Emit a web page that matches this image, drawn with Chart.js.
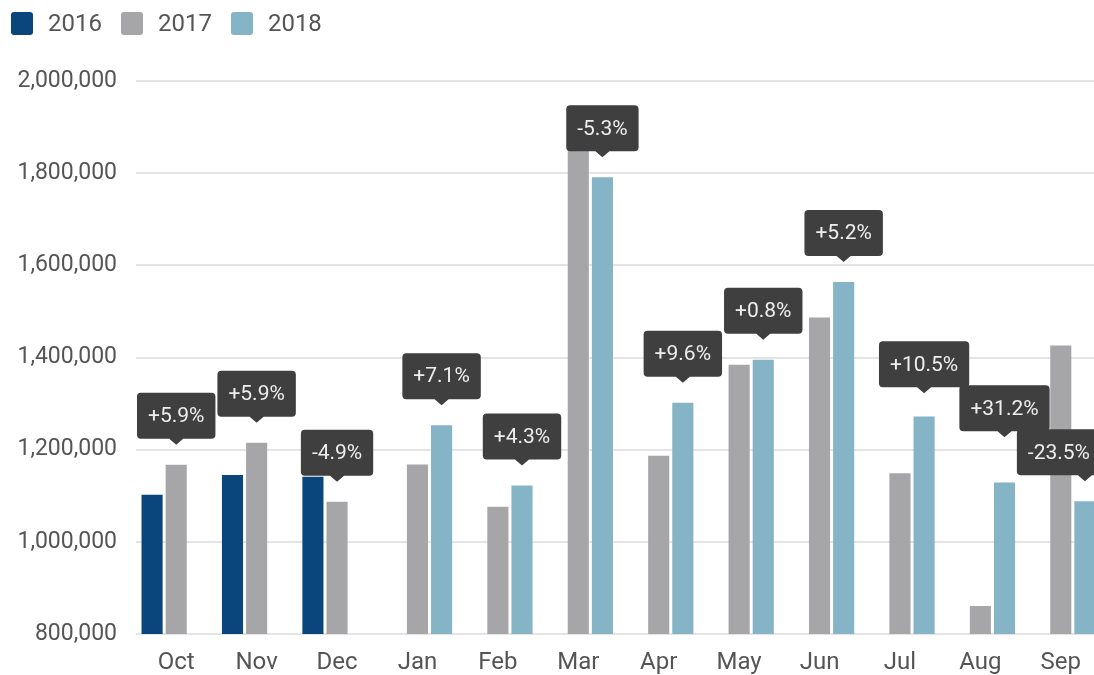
<!DOCTYPE html>
<html>
<head>
<meta charset="utf-8">
<script src="https://cdn.jsdelivr.net/npm/chart.js@4.4.1/dist/chart.umd.min.js"></script>
<style>
  html, body { margin: 0; padding: 0; background: #fff; overflow: hidden; width: 1094px; height: 675px; }
  #wrap { position: relative; width: 1101px; height: 675px; }
  #legend { position: absolute; left: 11px; top: 9px; display: flex; font-family: Roboto, sans-serif; font-size: 24px; color: #555; z-index: 2; }
  .item { display: flex; align-items: center; margin-right: 19px; }
  .sw { width: 22px; height: 23px; border-radius: 3px; margin-right: 15px; }
</style>
</head>
<body>
<div id="wrap">
  <div id="legend"></div>
  <canvas id="c"></canvas>
</div>
<script>
const categories = ['Oct','Nov','Dec','Jan','Feb','Mar','Apr','May','Jun','Jul','Aug','Sep'];
const seriesNames = ['2016','2017','2018'];
const values2016 = [1102000, 1145000, 1141000, null, null, null, null, null, null, null, null, null];
const values2017 = [1167000, 1215000, 1087000, 1168000, 1076000, 1891000, 1187000, 1384000, 1487000, 1149000, 861000, 1426000];
const values2018 = [null, null, null, 1253000, 1122000, 1791000, 1302000, 1395000, 1564000, 1272000, 1129000, 1088000];
const changeLabels = ['+5.9%','+5.9%','-4.9%','+7.1%','+4.3%','-5.3%','+9.6%','+0.8%','+5.2%','+10.5%','+31.2%','-23.5%'];
const yTicks = [800000, 1000000, 1200000, 1400000, 1600000, 1800000, 2000000];
const colors = ['#0a457c', '#a6a6a9', '#85b4c6'];

// HTML legend
const legend = document.getElementById('legend');
seriesNames.forEach((n, i) => {
  const it = document.createElement('div'); it.className = 'item';
  const sw = document.createElement('div'); sw.className = 'sw'; sw.style.background = colors[i];
  const tx = document.createElement('span'); tx.textContent = n;
  it.appendChild(sw); it.appendChild(tx); legend.appendChild(it);
});

const calloutPlugin = {
  id: 'callouts',
  afterDatasetsDraw(chart) {
    const ctx = chart.ctx;
    ctx.save();
    ctx.font = '21px Roboto, sans-serif';
    ctx.textAlign = 'center';
    ctx.textBaseline = 'middle';
    const caretH = 6, caretW = 7, h = 46, r = 4;
    // compute boxes
    const boxes = categories.map((c, i) => {
      const ds = values2018[i] != null ? 2 : 1;
      const bar = chart.getDatasetMeta(ds).data[i];
      const x = bar.x;
      const tipY = bar.y - 20;
      const bottom = tipY - caretH;
      const w = ctx.measureText(changeLabels[i]).width + 22;
      let left = x - w / 2;
      if (left + w > chart.width) left = chart.width - w;
      if (left < 0) left = 0;
      return { x, tipY, bottom, top: bottom - h, left, right: left + w, w };
    });
    // avoid collisions: raise a box that overlaps its right neighbour
    for (let i = boxes.length - 2; i >= 0; i--) {
      const a = boxes[i], b = boxes[i + 1];
      if (a.right > b.left && a.bottom > b.top + 4 && a.top < b.bottom) {
        const d = a.bottom - (b.top + 2);
        a.bottom -= d; a.top -= d; a.tipY -= d;
      }
    }
    boxes.forEach((bx, i) => {
      const { x, tipY, bottom, left, w } = bx;
      ctx.fillStyle = '#3f3f3f';
      ctx.beginPath();
      ctx.moveTo(left + r, bottom - h);
      ctx.lineTo(left + w - r, bottom - h);
      ctx.quadraticCurveTo(left + w, bottom - h, left + w, bottom - h + r);
      ctx.lineTo(left + w, bottom - r);
      ctx.quadraticCurveTo(left + w, bottom, left + w - r, bottom);
      ctx.lineTo(x + caretW, bottom);
      ctx.lineTo(x, tipY);
      ctx.lineTo(x - caretW, bottom);
      ctx.lineTo(left + r, bottom);
      ctx.quadraticCurveTo(left, bottom, left, bottom - r);
      ctx.lineTo(left, bottom - h + r);
      ctx.quadraticCurveTo(left, bottom - h, left + r, bottom - h);
      ctx.closePath();
      ctx.fill();
      ctx.fillStyle = '#eeeeee';
      ctx.fillText(changeLabels[i], left + w / 2, bottom - h / 2 + 1);
    });
    ctx.restore();
  }
};

new Chart(document.getElementById('c'), {
  type: 'bar',
  data: {
    labels: categories,
    datasets: [
      { label: seriesNames[0], data: values2016, backgroundColor: colors[0] },
      { label: seriesNames[1], data: values2017, backgroundColor: colors[1] },
      { label: seriesNames[2], data: values2018, backgroundColor: colors[2] }
    ]
  },
  options: {
    responsive: true,
    maintainAspectRatio: false,
    animation: false,
    events: [],
    layout: { padding: { top: 81, right: 0, bottom: 0, left: 0 } },
    datasets: { bar: { categoryPercentage: 0.9, barPercentage: 0.875 } },
    plugins: { legend: { display: false }, tooltip: { enabled: false } },
    scales: {
      x: {
        grid: { display: false },
        border: { display: false },
        ticks: { color: '#555', font: { family: 'Roboto', size: 24 }, padding: 7, maxRotation: 0 },
        afterFit(s) { s.height = 41; }
      },
      y: {
        min: 800000, max: 2000000,
        afterBuildTicks(s) { s.ticks = yTicks.map(v => ({ value: v })); },
        grid: { color: '#e4e4e4', lineWidth: 2, drawTicks: false },
        border: { display: false },
        ticks: { color: '#555', font: { family: 'Roboto', size: 23 }, padding: 19,
                 callback: v => v.toLocaleString('en-US') },
        afterFit(s) { s.width = 136; }
      }
    }
  },
  plugins: [calloutPlugin]
});
</script>
</body>
</html>
